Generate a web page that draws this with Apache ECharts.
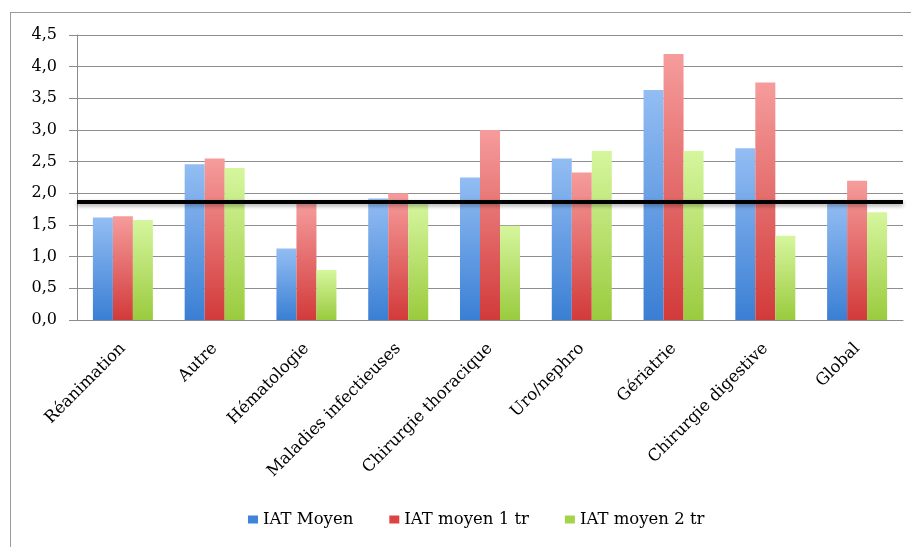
<!DOCTYPE html>
<html>
<head>
<meta charset="utf-8">
<script src="https://cdn.jsdelivr.net/npm/echarts@6/dist/echarts.min.js"></script>
<style>
  html, body { margin: 0; padding: 0; background: #fff; }
  #main { width: 911px; height: 547px; }
  #frame { position: absolute; left: 10px; top: 12px; width: 905px; height: 540px; border: 1px solid #9a9a9a; box-sizing: border-box; pointer-events: none; }
</style>
</head>
<body>
<div id="main"></div>
<div id="frame"></div>
<script>
const categories = ['Réanimation', 'Autre', 'Hématologie', 'Maladies infectieuses', 'Chirurgie thoracique', 'Uro/nephro', 'Gériatrie', 'Chirurgie digestive', 'Global'];
const iatMoyen = [1.62, 2.46, 1.13, 1.92, 2.25, 2.55, 3.63, 2.71, 1.86];
const iatMoyen1 = [1.64, 2.55, 1.85, 2.00, 3.00, 2.33, 4.20, 3.75, 2.20];
const iatMoyen2 = [1.58, 2.40, 0.79, 1.86, 1.49, 2.67, 2.67, 1.33, 1.70];
const reference = 1.87;

const font = '"DejaVu Serif", "Liberation Serif", serif';

function grad(top, bottom) {
  return new echarts.graphic.LinearGradient(0, 0, 0, 1, [
    { offset: 0, color: top },
    { offset: 1, color: bottom }
  ]);
}

let myChart = echarts.init(document.getElementById('main'));
myChart.setOption({
  animation: false,
  grid: { left: 77, right: 8, top: 35, bottom: 227 },
  legend: {
    bottom: 14,
    left: 243,
    icon: 'rect',
    itemWidth: 10,
    itemHeight: 8,
    itemGap: 36,
    textStyle: { fontFamily: font, fontSize: 16.5, color: '#000' },
    data: [
      { name: 'IAT Moyen', itemStyle: { color: '#3f84d8' } },
      { name: 'IAT moyen 1 tr', itemStyle: { color: '#dc4444' } },
      { name: 'IAT moyen 2 tr', itemStyle: { color: '#a4d44a' } }
    ]
  },
  xAxis: {
    type: 'category',
    data: categories,
    axisLine: { lineStyle: { color: '#8c8c8c' } },
    axisTick: { length: 6, lineStyle: { color: '#8c8c8c' } },
    axisLabel: {
      interval: 0,
      rotate: 45,
      margin: 26,
      fontFamily: font,
      fontSize: 16.5,
      color: '#000'
    }
  },
  yAxis: {
    type: 'value',
    min: 0,
    max: 4.5,
    interval: 0.5,
    axisLine: { show: true, lineStyle: { color: '#8c8c8c' } },
    axisTick: { show: true, length: 8, lineStyle: { color: '#8c8c8c' } },
    splitLine: { lineStyle: { color: '#8e8e8e', width: 1 } },
    axisLabel: {
      margin: 20,
      fontFamily: font,
      fontSize: 16,
      color: '#000',
      formatter: v => v.toFixed(1).replace('.', ',')
    }
  },
  series: [
    {
      name: 'IAT Moyen',
      type: 'bar',
      data: iatMoyen,
      barWidth: 20,
      barGap: '0%',
      itemStyle: { color: grad('#93bdf3', '#3a7fd4') }
    },
    {
      name: 'IAT moyen 1 tr',
      type: 'bar',
      data: iatMoyen1,
      barWidth: 20,
      barGap: '0%',
      itemStyle: { color: grad('#f69c9c', '#d23a3a') }
    },
    {
      name: 'IAT moyen 2 tr',
      type: 'bar',
      data: iatMoyen2,
      barWidth: 20,
      barGap: '0%',
      itemStyle: { color: grad('#d6f69e', '#9acb3e') },
      markLine: {
        silent: true,
        symbol: 'none',
        label: { show: false },
        lineStyle: {
          type: 'solid',
          color: '#000',
          width: 4,
          shadowColor: 'rgba(0,0,0,0.35)',
          shadowBlur: 4,
          shadowOffsetY: 2
        },
        data: [{ yAxis: reference }]
      }
    }
  ]
});
</script>
</body>
</html>
